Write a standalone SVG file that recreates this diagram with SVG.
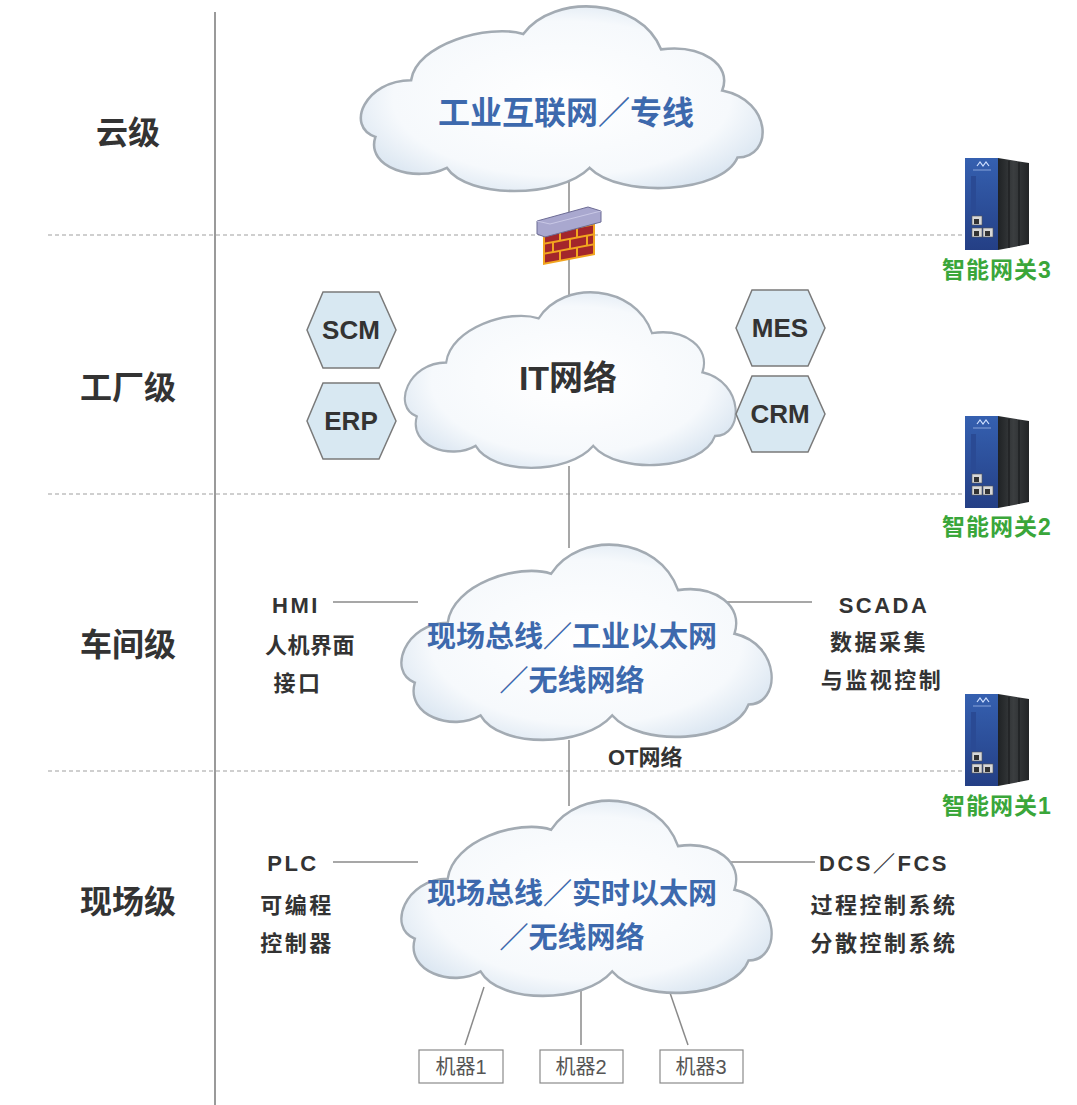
<svg xmlns="http://www.w3.org/2000/svg" width="1077" height="1105" viewBox="0 0 1077 1105">
  <style>
    .lvl { font-family: "Liberation Sans", "Noto Sans CJK SC", sans-serif; font-weight: bold; font-size: 32px; fill: #333; text-anchor: middle; }
    .side { font-family: "Liberation Sans", "Noto Sans CJK SC", sans-serif; font-weight: bold; font-size: 22px; fill: #333; text-anchor: middle; letter-spacing: 2.5px; }
    .net { font-family: "Liberation Sans", "Noto Sans CJK SC", sans-serif; font-weight: bold; font-size: 29px; fill: #3d69ad; text-anchor: middle; }
    .net-top { font-size: 32px; }
    .it { font-family: "Liberation Sans", "Noto Sans CJK SC", sans-serif; font-weight: bold; font-size: 34px; fill: #333; text-anchor: middle; }
    .hex-t { font-family: "Liberation Sans", "Noto Sans CJK SC", sans-serif; font-weight: bold; font-size: 26px; fill: #333; text-anchor: middle; }
    .gw-t { font-family: "Liberation Sans", "Noto Sans CJK SC", sans-serif; font-weight: bold; font-size: 23px; fill: #3aa63a; text-anchor: middle; letter-spacing: 1px; }
    .mach-t { font-family: "Liberation Sans", "Noto Sans CJK SC", sans-serif; font-size: 20px; fill: #555; text-anchor: middle; }
    .ot { font-family: "Liberation Sans", "Noto Sans CJK SC", sans-serif; font-weight: bold; font-size: 22px; fill: #333; }
    .link { stroke: #8a8a8a; stroke-width: 1.5; fill: none; }
    .dash { stroke: #a0a0a0; stroke-width: 1.2; stroke-dasharray: 4 3; fill: none; }
    .hex { fill: #d8e8f2; stroke: #7a7a7a; stroke-width: 1.5; }
    .cloud { fill: url(#cloudFill); stroke: #a3abb3; stroke-width: 2.5; }
    .mbox { fill: #fff; stroke: #8a8a8a; stroke-width: 1.2; }
  </style>
  <defs>
    <radialGradient id="cloudFill" cx="0.5" cy="0.5" r="0.6">
      <stop offset="0" stop-color="#ffffff"/>
      <stop offset="0.7" stop-color="#f6f9fc"/>
      <stop offset="1" stop-color="#d5e2ef"/>
    </radialGradient>
    <linearGradient id="gwSide" x1="0" y1="0" x2="1" y2="0">
      <stop offset="0" stop-color="#1f2224"/>
      <stop offset="0.5" stop-color="#3b3e40"/>
      <stop offset="1" stop-color="#222426"/>
    </linearGradient>
    <linearGradient id="gwFront" x1="0" y1="0" x2="0" y2="1">
      <stop offset="0" stop-color="#3560b0"/>
      <stop offset="1" stop-color="#243f85"/>
    </linearGradient>
    <!-- cloud outline in a 400 x 185 frame -->
    <path id="cloudShape" d="M20,130 C-10,120 10,75 55,75 C60,40 130,20 165,30 C195,-10 280,-5 300,45 C340,40 370,60 360,85 C410,95 410,150 375,150 C360,185 260,190 230,160 C200,190 110,190 90,160 C60,175 10,160 20,130 Z"/>
    <!-- industrial gateway box -->
    <g id="gateway">
      <polygon points="33,0 64,5 64,86 33,92" fill="url(#gwSide)"/>
      <line x1="44" y1="3" x2="44" y2="90" stroke="#151718" stroke-width="1"/>
      <line x1="54" y1="4" x2="54" y2="88" stroke="#151718" stroke-width="1"/>
      <rect x="0" y="0" width="33" height="92" fill="url(#gwFront)"/>
      <path d="M12,8 l3,-4 l3,4 l3,-4 l3,4" stroke="#cfe0ff" stroke-width="1.2" fill="none"/>
      <line x1="8" y1="12" x2="26" y2="12" stroke="#9fb6e6" stroke-width="0.8"/>
      <rect x="6" y="18" width="5" height="40" fill="#2a4a94"/>
      <rect x="7" y="58" width="10" height="9" fill="#d8d8d8" stroke="#555" stroke-width="0.6"/>
      <rect x="7" y="70" width="10" height="9" fill="#d8d8d8" stroke="#555" stroke-width="0.6"/>
      <rect x="18" y="70" width="10" height="9" fill="#d8d8d8" stroke="#555" stroke-width="0.6"/>
      <rect x="9" y="61" width="5" height="5" fill="#333"/>
      <rect x="9" y="73" width="5" height="5" fill="#333"/>
      <rect x="20" y="73" width="5" height="5" fill="#333"/>
    </g>
  </defs>

  <!-- level divider and separators -->
  <g id="grid">
    <line x1="215" y1="12" x2="215" y2="1105" stroke="#9a9a9a" stroke-width="2"/>
    <line class="dash" x1="48" y1="235" x2="966" y2="235"/>
    <line class="dash" x1="48" y1="494" x2="966" y2="494"/>
    <line class="dash" x1="48" y1="771" x2="966" y2="771"/>
  </g>

  <!-- level names -->
  <g id="levels">
    <text class="lvl" x="128" y="144">云级</text>
    <text class="lvl" x="128" y="399">工厂级</text>
    <text class="lvl" x="128" y="656">车间级</text>
    <text class="lvl" x="128" y="913">现场级</text>
  </g>

  <!-- connectors -->
  <g id="connectors">
    <line class="link" x1="569" y1="180" x2="569" y2="300"/>
    <line class="link" x1="569" y1="466" x2="569" y2="548"/>
    <line class="link" x1="569" y1="740" x2="569" y2="806"/>
    <line class="link" x1="333" y1="602" x2="418" y2="602"/>
    <line class="link" x1="725" y1="602" x2="812" y2="602"/>
    <line class="link" x1="333" y1="862" x2="418" y2="862"/>
    <line class="link" x1="725" y1="862" x2="815" y2="862"/>
    <line class="link" x1="484" y1="987" x2="465" y2="1045"/>
    <line class="link" x1="581" y1="985" x2="581" y2="1045"/>
    <line class="link" x1="668" y1="987" x2="688" y2="1045"/>
  </g>

  <!-- cloud: industrial internet -->
  <g id="cloud-internet">
    <use href="#cloudShape" class="cloud" transform="translate(355,3) scale(1.02,1.03)" style="vector-effect: non-scaling-stroke"/>
    <text class="net net-top" x="566" y="124">工业互联网／专线</text>
  </g>

  <!-- firewall -->
  <g id="firewall">
    <g transform="matrix(1,-0.19,0,1,543,233)">
      <rect x="0" y="0" width="52" height="32" fill="#f2a51f"/>
      <rect x="2" y="2" width="14" height="8" fill="#a3262b"/>
      <rect x="18" y="2" width="15" height="8" fill="#a3262b"/>
      <rect x="35" y="2" width="15" height="8" fill="#a3262b"/>
      <rect x="2" y="12" width="7" height="8" fill="#a3262b"/>
      <rect x="11" y="12" width="15" height="8" fill="#a3262b"/>
      <rect x="28" y="12" width="15" height="8" fill="#a3262b"/>
      <rect x="45" y="12" width="5" height="8" fill="#a3262b"/>
      <rect x="2" y="22" width="14" height="8" fill="#a3262b"/>
      <rect x="18" y="22" width="15" height="8" fill="#a3262b"/>
      <rect x="35" y="22" width="15" height="8" fill="#a3262b"/>
    </g>
    <polygon points="537,221 588,207 601,211 601,222 545,237 537,234" fill="#a9a8cf" stroke="#6d6c95" stroke-width="1"/>
    <polyline points="537,221 550,224 601,211" fill="none" stroke="#c9c8e6" stroke-width="1"/>
  </g>

  <!-- cloud: IT network -->
  <g id="cloud-it">
    <use href="#cloudShape" class="cloud" transform="translate(400,289) scale(0.84,0.98)" style="vector-effect: non-scaling-stroke"/>
    <text class="it" x="568" y="390">IT网络</text>
  </g>

  <!-- factory applications -->
  <g id="hex-scm">
    <polygon class="hex" points="307,330 323,292 379,292 396,330 379,368 323,368"/>
    <text class="hex-t" x="351" y="339">SCM</text>
  </g>
  <g id="hex-erp">
    <polygon class="hex" points="307,421 323,383 379,383 396,421 379,459 323,459"/>
    <text class="hex-t" x="351" y="430">ERP</text>
  </g>
  <g id="hex-mes">
    <polygon class="hex" points="736,328 752,290 808,290 825,328 808,366 752,366"/>
    <text class="hex-t" x="780" y="337">MES</text>
  </g>
  <g id="hex-crm">
    <polygon class="hex" points="736,414 752,376 808,376 825,414 808,452 752,452"/>
    <text class="hex-t" x="780" y="423">CRM</text>
  </g>

  <!-- cloud: workshop network -->
  <g id="cloud-workshop">
    <use href="#cloudShape" class="cloud" transform="translate(396,541) scale(0.94,1.09)" style="vector-effect: non-scaling-stroke"/>
    <text class="net" x="572" y="647">现场总线／工业以太网</text>
    <text class="net" x="572" y="691">／无线网络</text>
  </g>
  <g id="hmi">
    <text class="side" x="296" y="613">HMI</text>
    <text class="side" x="310" y="653" style="letter-spacing: 0.5px">人机界面</text>
    <text class="side" x="298" y="691">接口</text>
  </g>
  <g id="scada">
    <text class="side" x="884" y="613">SCADA</text>
    <text class="side" x="879" y="650">数据采集</text>
    <text class="side" x="882" y="688">与监视控制</text>
  </g>
  <text class="ot" x="608" y="765">OT网络</text>

  <!-- cloud: field network -->
  <g id="cloud-field">
    <use href="#cloudShape" class="cloud" transform="translate(396,797) scale(0.94,1.09)" style="vector-effect: non-scaling-stroke"/>
    <text class="net" x="572" y="904">现场总线／实时以太网</text>
    <text class="net" x="572" y="948">／无线网络</text>
  </g>
  <g id="plc">
    <text class="side" x="293" y="871">PLC</text>
    <text class="side" x="297" y="913">可编程</text>
    <text class="side" x="297" y="951">控制器</text>
  </g>
  <g id="dcs">
    <text class="side" x="884" y="871">DCS／FCS</text>
    <text class="side" x="884" y="913">过程控制系统</text>
    <text class="side" x="884" y="951">分散控制系统</text>
  </g>

  <!-- machines -->
  <g id="machine1">
    <rect class="mbox" x="419" y="1050" width="84" height="33"/>
    <text class="mach-t" x="461" y="1074">机器1</text>
  </g>
  <g id="machine2">
    <rect class="mbox" x="540" y="1050" width="83" height="33"/>
    <text class="mach-t" x="581" y="1074">机器2</text>
  </g>
  <g id="machine3">
    <rect class="mbox" x="660" y="1050" width="83" height="33"/>
    <text class="mach-t" x="701" y="1074">机器3</text>
  </g>

  <!-- gateways -->
  <g id="gateway3">
    <use href="#gateway" transform="translate(965,158)"/>
    <text class="gw-t" x="997" y="278">智能网关3</text>
  </g>
  <g id="gateway2">
    <use href="#gateway" transform="translate(965,416)"/>
    <text class="gw-t" x="997" y="535">智能网关2</text>
  </g>
  <g id="gateway1">
    <use href="#gateway" transform="translate(965,694)"/>
    <text class="gw-t" x="997" y="814">智能网关1</text>
  </g>
</svg>
